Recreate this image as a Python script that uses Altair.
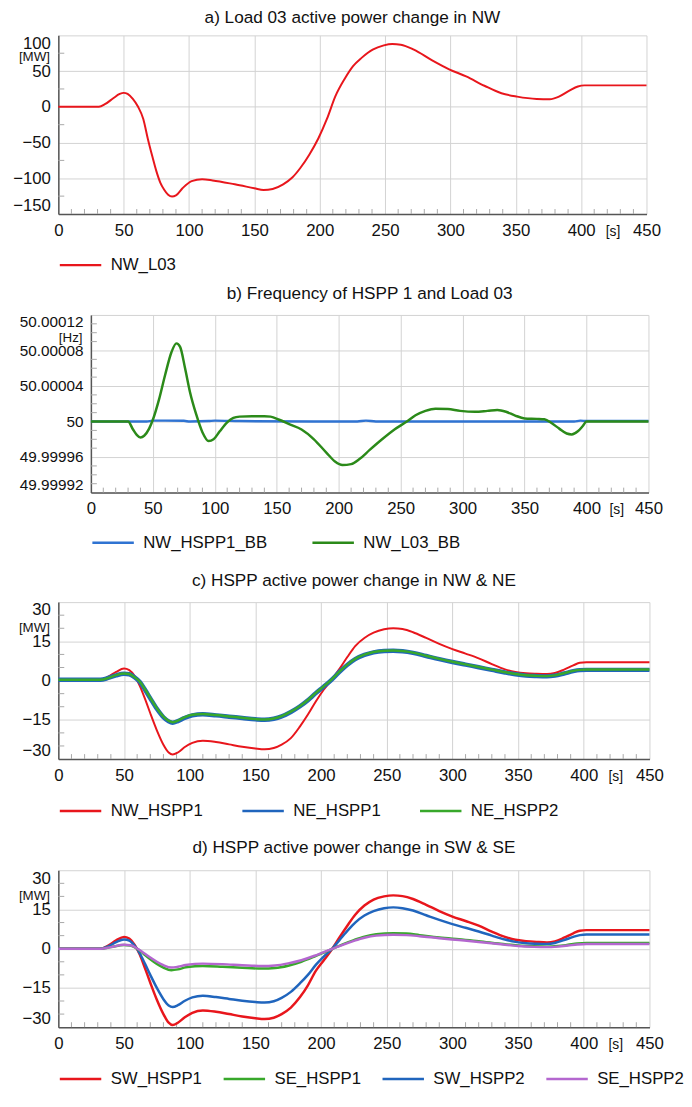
import altair as alt
import pandas as pd

FONT = "Liberation Sans"
GRID = "#d2d2d2"
AXIS = "#555555"
MINOR = "#a8a8a8"
TXT = "#111111"

# ---------------- data ----------------
X_MAJOR = [0, 50, 100, 150, 200, 250, 300, 350, 400, 450]
X_MINOR = [t for t in range(10, 450, 10) if t % 50 != 0]

# a) Load 03 active power change in NW  [MW]
A_T = [0, 31, 36, 42, 47, 50, 53, 57, 61, 65, 68.5, 72, 75, 78, 81, 84, 87, 90, 95, 102,
       110, 118, 135, 150, 157, 164, 172, 179, 185, 192, 199, 205.5, 212, 219, 225.5, 232,
       240.5, 249, 255.5, 262, 272, 286, 299, 312, 326, 339, 351, 366, 376, 383, 391,
       397.5, 402.5, 450]
A_NW_L03 = [0, 0, 4, 12, 18, 19.5, 18, 11, 0, -17, -45, -70, -90, -106, -116, -123, -125.5,
            -124, -114, -104, -101.5, -103, -108.5, -114, -116.5, -115, -108.5, -99, -86, -67,
            -44, -17, 15, 39, 57, 68.5, 80, 86, 88, 87, 80, 65, 52.5, 42.5, 29.5, 19, 14.3, 11,
            10.6, 14.3, 22.6, 28.5, 30, 30]
A_Y_LABELS = [-150, -100, -50, 0, 50, 100]
A_Y_MINOR = [-125, -75, -25, 25, 75]

# b) Frequency of HSPP 1 and Load 03  [Hz]
B_T_HSPP1 = [0, 45, 50, 60, 75, 80, 95, 100, 120, 180, 215, 222, 230, 390, 395, 400, 450]
B_NW_HSPP1_BB = [50.0, 50.0, 50.000001, 50.000001, 50.0000008, 50.0, 50.0000005, 50.000001,
                 50.0000005, 50.0, 50.0, 50.000001, 50.0, 50.0, 50.000001, 50.0000005,
                 50.0000005]
B_T_L03 = [0, 30, 34, 37, 40, 43, 47, 50, 55, 60, 65, 69, 72, 76, 80, 85, 90, 95, 99, 104,
           110, 115, 120, 130, 140, 145, 152, 160, 170, 180, 190, 197, 203, 210, 217, 225,
           235, 245, 255, 262, 270, 278, 288, 298, 310, 320, 328, 335, 342, 350, 360, 366,
           372, 378, 384, 388, 393, 397, 400, 450]
B_NW_L03_BB = [50.0, 50.0, 49.999991, 49.999985, 49.999982, 49.999984, 49.999992, 50.000002,
               50.000025, 50.000053, 50.000078, 50.000088, 50.000084, 50.00006, 50.000033,
               50.000008, 49.999988, 49.999978, 49.99998, 49.999989, 49.999999, 50.000004,
               50.0000055, 50.000006, 50.000006, 50.0000055, 50.000002, 49.999997, 49.999991,
               49.99998, 49.999965, 49.999955, 49.999951, 49.999952, 49.999958, 49.999968,
               49.99998, 49.999991, 50.0, 50.000007, 50.000012, 50.0000145, 50.000014,
               50.000012, 50.000011, 50.000012, 50.000013, 50.000011, 50.000007, 50.0000035,
               50.000003, 50.0000025, 49.999998, 49.999992, 49.9999865, 49.9999855,
               49.999989, 49.999995, 50.0, 50.0]
B_Y_LABELS = [49.99992, 49.99996, 50.0, 50.00004, 50.00008, 50.00012]
B_Y_MINOR = [49.99993, 49.99994, 49.99995, 49.99997, 49.99998, 49.99999, 50.00001, 50.00002,
             50.00003, 50.00005, 50.00006, 50.00007, 50.00009, 50.0001, 50.00011]

# c) / d) HSPP active power change  [MW]
T_MAIN = [0, 32, 38, 44, 50, 54, 58, 62, 66, 70, 75, 80, 84, 87, 91, 96, 102, 110, 120, 130,
          140, 150, 157, 164, 170, 177, 184, 190, 196, 202, 208, 214, 220, 226, 233, 240, 248,
          255, 262, 270, 280, 290, 300, 310, 320, 330, 340, 348, 356, 364, 372, 378, 385, 392,
          397, 402, 450]
C_NW_HSPP1 = [0.4, 0.4, 1.5, 3.3, 4.6, 4.0, 1.8, -2, -7, -12.5, -19, -24.5, -27.5, -28.3,
              -27.5, -25.5, -23.8, -23, -23.5, -24.4, -25.3, -26, -26.3, -25.8, -24.5, -22,
              -17.5, -13, -8, -3.5, 0.3, 4.5, 9, 13.2, 16.3, 18.3, 19.6, 20, 19.7, 18.5, 16.3,
              14, 12, 10.3, 8.5, 6.3, 4.3, 3.3, 2.8, 2.6, 2.5, 2.9, 4.2, 5.8, 6.8, 7.0, 7.0]
C_NE_HSPP1 = [0.3, 0.3, 1.0, 2.0, 2.6, 2.4, 1.3, -0.5, -3.5, -6.8, -10.8, -14, -15.6, -16.1,
              -15.5, -14.3, -13.3, -12.9, -13.3, -13.8, -14.3, -14.8, -15, -14.6, -13.7, -12,
              -9.8, -7.5, -4.8, -2.3, 0.3, 3.3, 6, 8.2, 9.8, 10.8, 11.3, 11.4, 11.2, 10.6, 9.4,
              8.2, 7.1, 6.1, 5.1, 4.1, 3.1, 2.4, 1.9, 1.7, 1.6, 1.9, 2.7, 3.6, 4.0, 4.1, 4.1]
C_NE_HSPP2 = [0.3, 0.3, 1.0, 2.1, 2.7, 2.5, 1.3, -0.4, -3.3, -6.6, -10.6, -13.8, -15.4, -15.9,
              -15.3, -14.1, -13.1, -12.8, -13.2, -13.7, -14.2, -14.7, -14.9, -14.5, -13.6,
              -11.9, -9.7, -7.4, -4.7, -2.2, 0.4, 3.4, 6.1, 8.3, 9.9, 10.9, 11.4, 11.5, 11.3,
              10.7, 9.5, 8.3, 7.2, 6.2, 5.2, 4.2, 3.2, 2.5, 2.0, 1.8, 1.7, 2.0, 2.8, 3.7, 4.1,
              4.2, 4.2]
D_SW_HSPP1 = [0, 0, 1.2, 3.2, 4.5, 3.9, 1.5, -2.2, -7.5, -13, -19.5, -25, -28.3, -29.2, -28.3,
              -26.3, -24.5, -23.6, -24.1, -25, -25.9, -26.6, -26.9, -26.4, -25, -22.5, -18.5,
              -14, -8.5, -4.5, -0.4, 4.3, 8.8, 13, 16.5, 18.8, 20.0, 20.4, 20.1, 19, 16.8, 14.4,
              12.3, 10.6, 8.8, 6.5, 4.5, 3.4, 2.9, 2.6, 2.4, 2.8, 4.2, 5.9, 6.9, 7.1, 7.1]
D_SW_HSPP2 = [0, 0, 0.9, 2.5, 3.5, 3.1, 1.2, -1.8, -5.8, -10, -15, -19.3, -21.7, -22.3, -21.6,
              -20, -18.6, -18, -18.5, -19.2, -19.9, -20.4, -20.6, -20.1, -18.8, -16.5, -13.2,
              -10, -6.2, -3.0, -0.3, 3.3, 6.8, 10, 12.7, 14.4, 15.5, 15.8, 15.5, 14.6, 12.8, 11,
              9.4, 8, 6.6, 5, 3.5, 2.6, 2.1, 1.9, 1.8, 2.2, 3.3, 4.5, 5.2, 5.4, 5.4]
T_SE = [0, 32, 40, 50, 55, 60, 65, 70, 75, 80, 86, 91, 97, 104, 110, 125, 140, 155, 165, 175,
        185, 195, 202, 209, 216, 225, 233, 242, 255, 265, 275, 290, 305, 320, 335, 350, 362,
        372, 380, 388, 395, 402, 450]
D_SE_HSPP1 = [0, 0, 0.6, 1.4, 1.2, 0, -2, -4, -5.8, -7.2, -8.2, -7.9, -7.1, -6.7, -6.6, -6.9,
              -7.3, -7.6, -7.4, -6.5, -5.0, -3.0, -1.5, 0, 1.6, 3.3, 4.6, 5.5, 5.9, 5.8, 5.2,
              4.3, 3.6, 2.9, 2.0, 1.2, 0.9, 0.8, 1.0, 1.5, 2.0, 2.2, 2.2]
D_SE_HSPP2 = [0, 0, 0.6, 1.5, 1.3, 0.1, -1.6, -3.4, -5, -6.3, -7.2, -6.9, -6.2, -5.8, -5.7,
              -5.9, -6.3, -6.6, -6.4, -5.6, -4.4, -2.7, -1.3, 0, 1.4, 3.0, 4.2, 5.0, 5.3, 5.2,
              4.8, 4.0, 3.3, 2.6, 1.8, 1.0, 0.7, 0.6, 0.8, 1.2, 1.6, 1.8, 1.8]
CD_Y_LABELS = [-30, -15, 0, 15, 30]
CD_Y_MINOR = [-25, -20, -10, -5, 5, 10, 20, 25]


def panel(title, series, legend_order, colors, w, h, ydom, ylabels, yminor, unit, unit_y,
          col_pad, title_offset, legend_gap, ylab_size=17, label_expr=None, inset=0):
    # inset: left part of the view kept free, so the plot area starts further right
    pw = w - inset
    xs = alt.Scale(domain=[0, 450], nice=False, zero=False, range=[inset, w])
    x_axis = alt.Axis(values=X_MAJOR, grid=True, gridColor=GRID, gridWidth=1, ticks=False,
                      domainColor=AXIS, domainWidth=1.5, labelFont=FONT, labelFontSize=17,
                      labelColor=TXT, labelPadding=8.5, labelFlush=False, title="[s]",
                      titleFont=FONT, titleFontSize=14, titleFontWeight="normal",
                      titleColor=TXT, titleX=inset + pw * 424 / 450, titleY=17.5,
                      titleAlign="center", titleBaseline="middle")
    ys = alt.Scale(domain=ydom, nice=False, zero=False)
    yax = dict(values=ylabels, grid=True, gridColor=GRID, gridWidth=1, ticks=False,
               domainColor=AXIS, domainWidth=1.5, labelFont=FONT, labelFontSize=ylab_size,
               labelColor=TXT, labelPadding=8, labelFlush=True, minExtent=51,
               maxExtent=51, offset=-inset, title=unit, titleFont=FONT, titleFontSize=13.5,
               titleFontWeight="normal", titleColor=TXT, titleAngle=0, titleX=-9,
               titleY=unit_y, titleAlign="right", titleBaseline="middle")
    if label_expr:
        yax["labelExpr"] = label_expr
    y_axis = alt.Axis(**yax)
    x_enc = alt.X("t:Q", scale=xs, axis=x_axis)
    y_enc = alt.Y("v:Q", scale=ys, axis=y_axis)

    leg = dict(orient="none", legendX=inset, legendY=h + legend_gap, direction="horizontal",
               columns=len(legend_order), columnPadding=col_pad, symbolType="stroke",
               symbolSize=1764, symbolStrokeWidth=2.5, labelFont=FONT, labelFontSize=17,
               labelColor=TXT, labelOffset=8, labelLimit=0, title=None)
    color_enc = alt.Color("series:N",
                          scale=alt.Scale(domain=legend_order, range=colors),
                          legend=alt.Legend(**leg))

    layers = [
        alt.Chart(pd.DataFrame({"t": X_MINOR})).mark_rule(color=MINOR, strokeWidth=1).encode(
            x=x_enc, y=alt.value(h - 5), y2=alt.value(h)),
        alt.Chart(pd.DataFrame({"v": yminor})).mark_rule(color=MINOR, strokeWidth=1).encode(
            y=y_enc, x=alt.value(inset), x2=alt.value(inset + 6)),
    ]
    for name, ts, vs, sw in series:
        df = pd.DataFrame({"t": ts, "v": vs, "series": name})
        layers.append(
            alt.Chart(df).mark_line(interpolate="monotone", strokeWidth=sw,
                                    strokeJoin="round").encode(
                x=x_enc, y=y_enc, color=color_enc))
    return alt.layer(*layers).properties(
        width=w, height=h,
        title=alt.TitleParams(title, font=FONT, fontSize=17.4, fontWeight="normal",
                              color=TXT, offset=title_offset, anchor="middle",
                              dx=inset / 2))


RED = "#e8161c"
BLUE = "#2065bd"
GREEN_B = "#2b8a19"
BLUE_B = "#2f73d2"
GREEN = "#38a82b"
PURPLE = "#b467cf"

pa = panel("a) Load 03 active power change in NW",
           [("NW_L03", A_T, A_NW_L03, 2)],
           ["NW_L03"], [RED], 596, 181, [-150, 100], A_Y_LABELS, A_Y_MINOR,
           "[MW]", 21, 20, 7.8, 29.3)

pb = panel("b) Frequency of HSPP 1 and Load 03",
           [("NW_HSPP1_BB", B_T_HSPP1, B_NW_HSPP1_BB, 2.5),
            ("NW_L03_BB", B_T_L03, B_NW_L03_BB, 2.5)],
           ["NW_HSPP1_BB", "NW_L03_BB"], [BLUE_B, GREEN_B], 598, 180,
           [49.99992, 50.00012], B_Y_LABELS, B_Y_MINOR, "[Hz]", 23, 40, 13, 28,
           ylab_size=15.5, inset=33,
           label_expr="abs(datum.value - 50) < 1e-9 ? '50' : format(datum.value, '.5f')")

pc = panel("c) HSPP active power change in NW & NE",
           [("NW_HSPP1", T_MAIN, C_NW_HSPP1, 2),
            ("NE_HSPP1", T_MAIN, C_NE_HSPP1, 4.5),
            ("NE_HSPP2", T_MAIN, C_NE_HSPP2, 2.5)],
           ["NW_HSPP1", "NE_HSPP1", "NE_HSPP2"], [RED, BLUE, GREEN], 599, 159,
           [-30, 30], CD_Y_LABELS, CD_Y_MINOR, "[MW]", 26, 34, 12.3, 30)

pd_ = panel("d) HSPP active power change in SW & SE",
            [("SW_HSPP1", T_MAIN, D_SW_HSPP1, 2.5),
             ("SW_HSPP2", T_MAIN, D_SW_HSPP2, 2.5),
             ("SE_HSPP1", T_SE, D_SE_HSPP1, 2.5),
             ("SE_HSPP2", T_SE, D_SE_HSPP2, 2.5)],
            ["SW_HSPP1", "SE_HSPP1", "SW_HSPP2", "SE_HSPP2"], [RED, GREEN, BLUE, PURPLE],
            599, 159, [-30, 30], CD_Y_LABELS, CD_Y_MINOR, "[MW]", 26, 16, 13.3, 29.7)

RES = dict(color="independent", x="independent", y="independent")
top = alt.vconcat(pa, pb, spacing=10.3).resolve_scale(**RES)
bottom = alt.vconcat(pc, pd_, spacing=19.7).resolve_scale(**RES)
chart = alt.vconcat(top, bottom, spacing=20.3).resolve_scale(**RES).properties(
    padding={"left": 0, "top": -6.5, "right": 0, "bottom": 0}).configure_view(stroke=None)

chart.save("out.html", embed_options={"renderer": "svg", "actions": False})
